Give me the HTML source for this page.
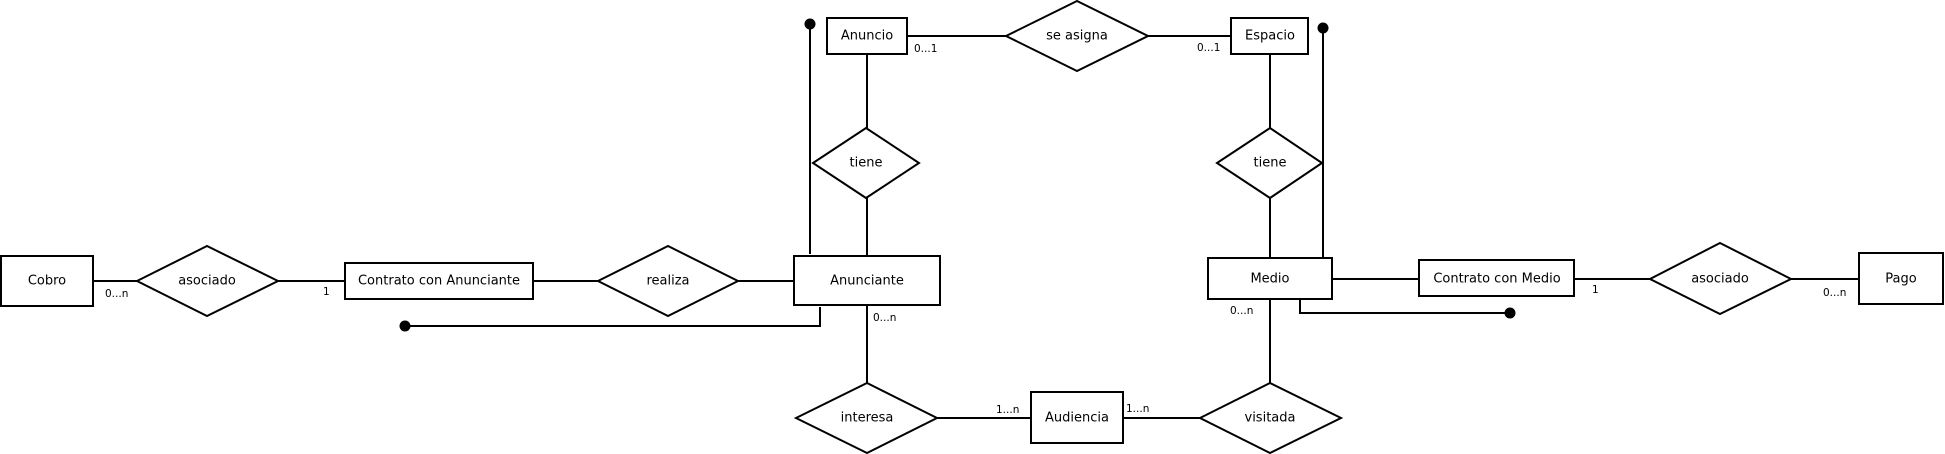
<!DOCTYPE html>
<html><head><meta charset="utf-8"><style>
html,body{margin:0;padding:0;background:#fff;}
svg{display:block;}
text{font-family:"DejaVu Sans","Liberation Sans",sans-serif;fill:#000;}
.l{font-size:13px;text-anchor:middle;dominant-baseline:central;}
.c{font-size:10.5px;}
</style></head><body>
<svg width="1945" height="454" viewBox="0 0 1945 454" xmlns="http://www.w3.org/2000/svg">
<g fill="#fff" stroke="#000" stroke-width="2">
<!-- lines -->
<line x1="93" y1="281" x2="137" y2="281"/>
<line x1="278" y1="281" x2="345" y2="281"/>
<line x1="533" y1="281" x2="598" y2="281"/>
<line x1="738" y1="281" x2="793" y2="281"/>
<line x1="810" y1="24" x2="810" y2="254"/>
<line x1="867" y1="54" x2="867" y2="128"/>
<line x1="867" y1="198" x2="867" y2="256"/>
<line x1="867" y1="305" x2="867" y2="383"/>
<polyline points="820,307 820,326 405,326" fill="none"/>
<line x1="907" y1="36" x2="1006" y2="36"/>
<line x1="1148" y1="36" x2="1231" y2="36"/>
<line x1="937" y1="418" x2="1031" y2="418"/>
<line x1="1123" y1="418" x2="1200" y2="418"/>
<line x1="1270" y1="54" x2="1270" y2="128"/>
<line x1="1270" y1="198" x2="1270" y2="258"/>
<line x1="1270" y1="299" x2="1270" y2="383"/>
<line x1="1323" y1="28" x2="1323" y2="258"/>
<polyline points="1300,299 1300,313 1510,313" fill="none"/>
<line x1="1332" y1="279" x2="1420" y2="279"/>
<line x1="1574" y1="279" x2="1650" y2="279"/>
<line x1="1791" y1="279" x2="1859" y2="279"/>
<!-- entities -->
<rect x="1" y="256" width="92" height="50"/>
<rect x="345" y="263" width="188" height="36"/>
<rect x="794" y="256" width="146" height="49"/>
<rect x="827" y="18" width="80" height="36"/>
<rect x="1231" y="18" width="77" height="36"/>
<rect x="1208" y="258" width="124" height="41"/>
<rect x="1419" y="260" width="155" height="36"/>
<rect x="1859" y="253" width="84" height="51"/>
<rect x="1031" y="392" width="92" height="51"/>
<!-- relationships -->
<polygon points="137,281 207,246 278,281 207,316"/>
<polygon points="598,281 668,246 738,281 668,316"/>
<polygon points="813,163 866,128 919,163 866,198"/>
<polygon points="1006,36 1077,1 1148,36 1077,71"/>
<polygon points="1217,163 1270,128 1322,163 1270,198"/>
<polygon points="796,418 867,383 937,418 867,453"/>
<polygon points="1200,418 1270,383 1341,418 1270,453"/>
<polygon points="1650,279 1720,243 1791,279 1720,314"/>
</g>
<g fill="#000">
<circle cx="810" cy="24" r="5.5"/>
<circle cx="1323" cy="28" r="5.5"/>
<circle cx="405" cy="326" r="5.5"/>
<circle cx="1510" cy="313" r="5.5"/>
</g>
<text class="l" x="47" y="281">Cobro</text>
<text class="l" x="207" y="281">asociado</text>
<text class="l" x="439" y="281">Contrato con Anunciante</text>
<text class="l" x="668" y="281">realiza</text>
<text class="l" x="867" y="281">Anunciante</text>
<text class="l" x="867" y="36">Anuncio</text>
<text class="l" x="866" y="163">tiene</text>
<text class="l" x="1077" y="36">se asigna</text>
<text class="l" x="1270" y="36">Espacio</text>
<text class="l" x="1270" y="163">tiene</text>
<text class="l" x="1270" y="279">Medio</text>
<text class="l" x="1497" y="279">Contrato con Medio</text>
<text class="l" x="1720" y="279">asociado</text>
<text class="l" x="1901" y="279">Pago</text>
<text class="l" x="867" y="418">interesa</text>
<text class="l" x="1077" y="418">Audiencia</text>
<text class="l" x="1270" y="418">visitada</text>
<text class="c" x="105" y="297">0...n</text>
<text class="c" x="323" y="295">1</text>
<text class="c" x="873" y="321">0...n</text>
<text class="c" x="914" y="52">0...1</text>
<text class="c" x="1197" y="51">0...1</text>
<text class="c" x="996" y="413">1...n</text>
<text class="c" x="1126" y="412">1...n</text>
<text class="c" x="1230" y="314">0...n</text>
<text class="c" x="1592" y="293">1</text>
<text class="c" x="1823" y="296">0...n</text>
</svg>
</body></html>
